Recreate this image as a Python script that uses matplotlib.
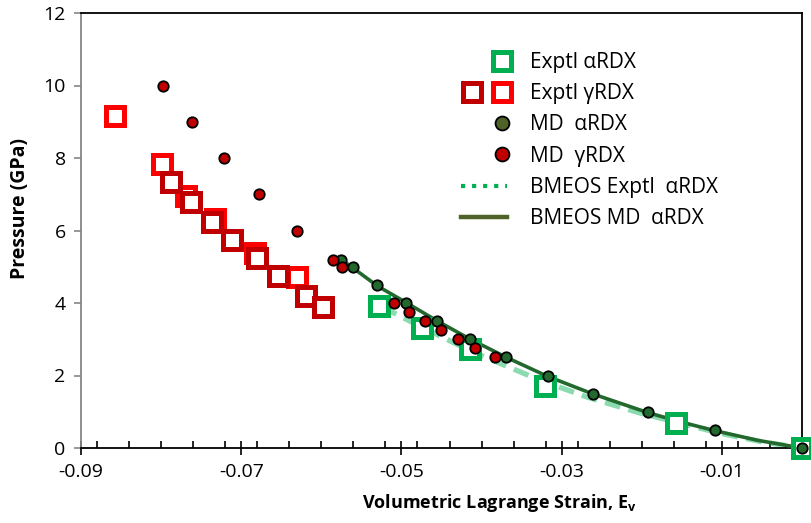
import matplotlib
matplotlib.use("Agg")
import matplotlib.pyplot as plt
from matplotlib.lines import Line2D
from matplotlib.legend_handler import HandlerTuple, HandlerLine2D
from matplotlib.ticker import MultipleLocator

plt.rcParams["font.family"] = ["Open Sans", "DejaVu Sans"]

# Experimental alpha-RDX
exp_a_x = [-0.0528, -0.0474, -0.0414, -0.0321, -0.01575, 0.0]
exp_a_y = [3.92, 3.31, 2.73, 1.71, 0.69, 0.0]

# Experimental gamma-RDX (two data sets)
exp_g1_x = [-0.08575, -0.0799, -0.0769, -0.0733, -0.0683, -0.0630]
exp_g1_y = [9.16, 7.83, 6.95, 6.32, 5.38, 4.72]
exp_g2_x = [-0.0788, -0.0763, -0.0736, -0.0711, -0.0680, -0.0654, -0.0619, -0.0598]
exp_g2_y = [7.34, 6.79, 6.23, 5.74, 5.24, 4.74, 4.19, 3.89]

# MD alpha-RDX
md_a_x = [-0.0575, -0.0561, -0.0530, -0.0494, -0.0455, -0.0414, -0.0369,
          -0.03175, -0.0261, -0.01925, -0.0109, 0.0]
md_a_y = [5.2, 5.0, 4.5, 4.0, 3.5, 3.0, 2.5, 2.0, 1.5, 1.0, 0.5, 0.0]

# MD gamma-RDX
md_g_x = [-0.07975, -0.0761, -0.0721, -0.0678, -0.0630, -0.0586, -0.0574,
          -0.0509, -0.0491, -0.0471, -0.0451, -0.0430, -0.0408, -0.0383]
md_g_y = [10.0, 9.0, 8.0, 7.0, 6.0, 5.2, 5.0, 4.0, 3.75, 3.5, 3.25, 3.0, 2.75, 2.5]

# BMEOS fits
fit_exp_x = [-0.0524, -0.0478, -0.0411, -0.0328, -0.0269, -0.0203, -0.0103, -0.005, 0.0]
fit_exp_y = [3.89, 3.37, 2.65, 1.88, 1.41, 0.97, 0.41, 0.17, 0.0]
fit_md_x = [-0.0578, -0.0530, -0.0494, -0.0455, -0.0414, -0.0369, -0.0318,
            -0.0261, -0.0193, -0.0150, -0.0109, -0.0055, 0.0]
fit_md_y = [5.25, 4.47, 4.01, 3.50, 3.00, 2.50, 1.98, 1.49, 0.98, 0.71, 0.48, 0.21, 0.0]

GREEN = "#00B050"
RED = "#FF0000"
DARKRED = "#C00000"
MDGREEN = "#23692E"
OLIVE = "#4F6228"


class RightMarker(HandlerLine2D):
    """Single legend marker placed at a fraction of the handle width."""

    def __init__(self, frac, **kw):
        super().__init__(**kw)
        self.frac = frac

    def get_xdata(self, legend, xdescent, ydescent, width, height, fontsize):
        pos = -xdescent + self.frac * width
        return [pos, pos], [pos]


fig = plt.figure(figsize=(8.12, 5.23), dpi=100)
ax = fig.add_axes([81 / 812, 75 / 523, 721 / 812, 435 / 523])

ax.plot(fit_exp_x, fit_exp_y, color=GREEN, alpha=0.45, lw=3.8,
        dashes=(3, 1.6), zorder=2)
ax.plot(fit_md_x, fit_md_y, color=MDGREEN, lw=2.6, zorder=3)

sq = dict(marker="s", ms=13.5, mew=3.6, mfc="white", ls="none")
ax.plot(exp_a_x, exp_a_y, mec=GREEN, zorder=4, clip_on=False, **sq)
ax.plot(exp_g1_x, exp_g1_y, mec=RED, zorder=4, clip_on=False, **sq)
ax.plot(exp_g2_x, exp_g2_y, mec=DARKRED, zorder=5, clip_on=False, **sq)

ci = dict(marker="o", ms=7.5, mew=1.3, mec="black", ls="none")
md_a_line, = ax.plot(md_a_x, md_a_y, mfc=MDGREEN, zorder=6, **ci)
md_g_line, = ax.plot(md_g_x, md_g_y, mfc=DARKRED, zorder=6, **ci)
# let the circle at the origin show beyond the axes edge
md_a_line.set_clip_box(fig.bbox)
md_g_line.set_clip_box(fig.bbox)

ax.set_xlim(-0.09, 0.0)
ax.set_ylim(0, 12)
ax.xaxis.set_minor_locator(MultipleLocator(0.004))
ax.set_xticks([-0.09, -0.07, -0.05, -0.03, -0.01])
ax.set_xticklabels(["-0.09", "-0.07", "-0.05", "-0.03", "-0.01"])
ax.yaxis.set_major_locator(MultipleLocator(2))

for s in ["top", "right", "bottom"]:
    ax.spines[s].set_color("black")
    ax.spines[s].set_linewidth(1.3)
ax.spines["left"].set_color("#868686")
ax.spines["left"].set_linewidth(1.3)

ax.tick_params(axis="x", which="major", direction="inout", length=10,
               width=1.2, color="black", labelsize=14, pad=6)
ax.tick_params(axis="x", which="minor", direction="in", length=5,
               width=1.2, color="black")
ax.tick_params(axis="y", which="major", direction="out", length=5,
               width=1.2, color="#868686", labelsize=14, pad=6)

ax.set_xlabel(r"Volumetric Lagrange Strain, E$_\mathregular{v}$",
              fontsize=13, fontweight="bold")
ax.xaxis.set_label_coords(0.58, -0.1)
ax.set_ylabel("Pressure (GPa)", fontsize=14, fontweight="bold")
ax.yaxis.set_label_coords(-0.071, 0.55)

ci_leg = dict(ci, ms=10)
h_exp_a = Line2D([], [], mec=GREEN, **sq)
h_g1 = Line2D([], [], mec=DARKRED, **sq)
h_g2 = Line2D([], [], mec=RED, **sq)
h_md_a = Line2D([], [], mfc=OLIVE, **ci_leg)
h_md_g = Line2D([], [], mfc=DARKRED, **ci_leg)
h_fit_e = Line2D([], [], color=GREEN, lw=3, ls=":")
h_fit_m = Line2D([], [], color=OLIVE, lw=3.2)

fig.legend(
    [h_exp_a, (h_g1, h_g2), h_md_a, h_md_g, h_fit_e, h_fit_m],
    ["Exptl \u03b1RDX", "Exptl \u03b3RDX", "MD  \u03b1RDX", "MD  \u03b3RDX",
     "BMEOS Exptl  \u03b1RDX", "BMEOS MD  \u03b1RDX"],
    handler_map={
        tuple: HandlerTuple(ndivide=None, pad=0),
        h_exp_a: RightMarker(0.89),
        h_g1: RightMarker(0.5),
        h_g2: RightMarker(0.78),
        h_md_a: RightMarker(0.89),
        h_md_g: RightMarker(0.89),
    },
    loc="upper left", bbox_to_anchor=(461 / 812, 1 - 52 / 523),
    frameon=False, borderpad=0, borderaxespad=0,
    fontsize=15, handlelength=2.2, handletextpad=1.1, labelspacing=0.49,
)

fig.savefig("out.png", dpi=100)
